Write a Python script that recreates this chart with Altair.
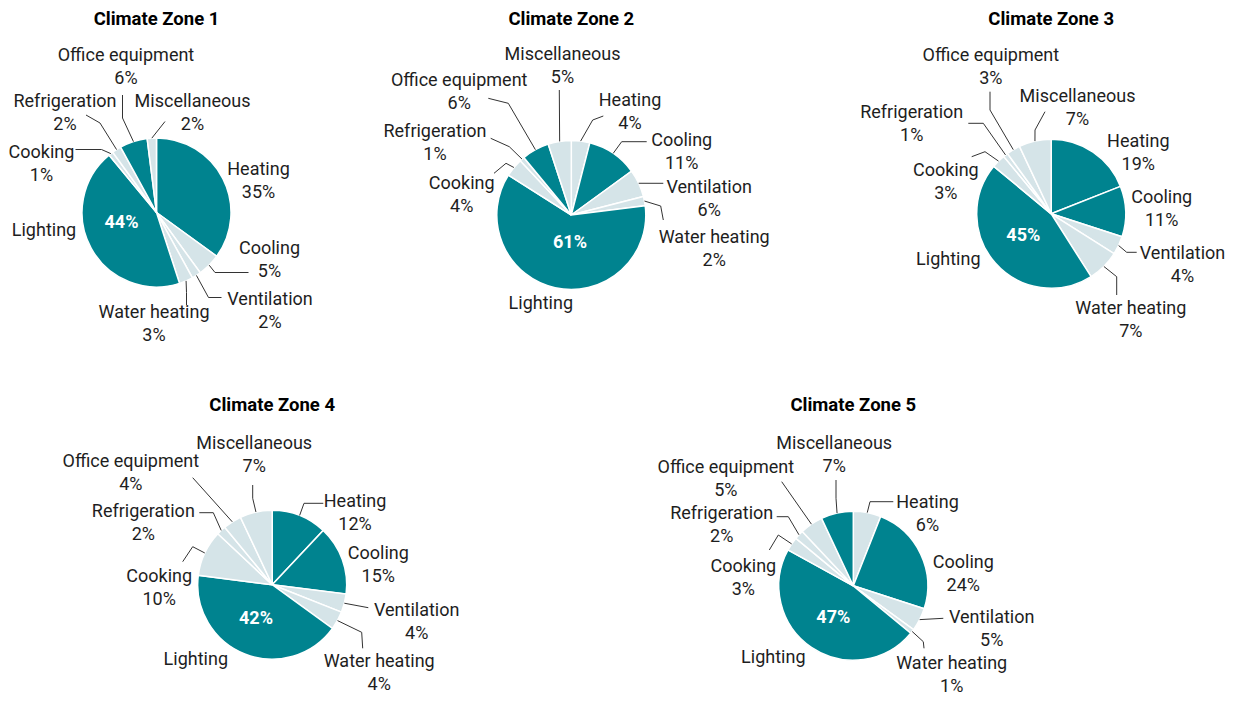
import math
import altair as alt
import pandas as pd

# ---------------- data ----------------
CATEGORIES = ["Heating", "Cooling", "Ventilation", "Water heating", "Lighting",
              "Cooking", "Refrigeration", "Office equipment", "Miscellaneous"]
ZONE_NAMES = ["Climate Zone 1", "Climate Zone 2", "Climate Zone 3",
              "Climate Zone 4", "Climate Zone 5"]
ZONE_1 = [35, 5, 2, 3, 44, 1, 2, 6, 2]
ZONE_2 = [4, 11, 6, 2, 61, 4, 1, 6, 5]
ZONE_3 = [19, 11, 4, 7, 45, 3, 1, 3, 7]
ZONE_4 = [12, 15, 4, 4, 42, 10, 2, 4, 7]
ZONE_5 = [6, 24, 5, 1, 47, 3, 2, 5, 7]
ZONE_VALUES = [ZONE_1, ZONE_2, ZONE_3, ZONE_4, ZONE_5]
HIGHLIGHTED = [
    ["Heating", "Lighting", "Office equipment"],
    ["Cooling", "Lighting", "Office equipment"],
    ["Heating", "Cooling", "Lighting"],
    ["Heating", "Cooling", "Lighting"],
    ["Cooling", "Lighting", "Miscellaneous"],
]
INSIDE_LABEL = "Lighting"

# ---------------- layout / style ----------------
W, H = 1218, 688
MARGIN = 8
RADIUS = 74.5
TEAL = "#00838f"
LIGHT = "#d5e4e8"
FONT = "Roboto"
LABEL_SIZE = 18
TITLE_SIZE = 18.5
LINE_H = 23
TEXT_COLOR = "#1e1e1e"
PIE_CENTERS = [(156.5, 212.5), (571.3, 215.0), (1051.2, 213.8),
               (272.2, 584.7), (853.3, 585.8)]
TITLE_Y = [19, 19, 19, 405, 405]

# label block centre offset from pie centre, and leader bend points (offsets)
LABEL_LAYOUT = [
    {  # zone 1
        "Heating": ((102, -31), []),
        "Cooling": ((113, 47.5), [(58.5, 60), (92, 60)]),
        "Ventilation": ((113.5, 99), [(52, 85), (65, 85)]),
        "Water heating": ((-2.5, 111.5), [(30, 80), (30, 92.5)]),
        "Lighting": ((-112.5, 18.5), []),
        "Cooking": ((-115, -48.5), [(-55, -63), (-81, -63)]),
        "Refrigeration": ((-91.5, -99), [(-56.5, -89.5), (-70.5, -97.5)]),
        "Office equipment": ((-30.5, -145.5), [(-34, -94.5), (-34, -117.5)]),
        "Miscellaneous": ((36, -99), [(8.5, -91)]),
    },
    {  # zone 2
        "Heating": ((58.7, -102.5), [(21.4, -95), (32, -99)]),
        "Cooling": ((110.4, -63), [(50.4, -73.3), (75.4, -73.3)]),
        "Ventilation": ((137.9, -15.4), [(92, -31.7)]),
        "Water heating": ((142.9, 34), [(89.4, -9), (92, 5)]),
        "Lighting": ((-30.5, 89), []),
        "Cooking": ((-109.6, -19.2), [(-65.3, -51.7), (-77.3, -41.7)]),
        "Refrigeration": ((-136.3, -71.7), [(-62, -68.3), (-80.6, -76.7)]),
        "Office equipment": ((-112.1, -123), [(-63, -111.7), (-83, -116.7)]),
        "Miscellaneous": ((-8.8, -148.5), [(-12, -125)]),
    },
    {  # zone 3
        "Heating": ((87.1, -60.5), []),
        "Cooling": ((110.5, -4.2), []),
        "Ventilation": ((131.3, 51.2), [(75.5, 38.5), (85.5, 38.5)]),
        "Water heating": ((79.6, 107), [(65.5, 62.9), (65.5, 81.2)]),
        "Lighting": ((-102.9, 46.2), []),
        "Cooking": ((-105.4, -31.8), [(-66.2, -62.1), (-79.5, -57.1)]),
        "Refrigeration": ((-139.5, -89.6), [(-67.9, -90.5), (-82.9, -90.5)]),
        "Office equipment": ((-60.4, -146.4), [(-61.2, -103.8), (-61.2, -122.1)]),
        "Miscellaneous": ((26.3, -105.5), [(-16.2, -83.8), (-6.2, -102.1)]),
    },
    {  # zone 4
        "Heating": ((82.8, -71.7), [(31.8, -81.4), (51.1, -81.4)]),
        "Cooling": ((106.1, -18.9), []),
        "Ventilation": ((144.5, 37.8), [(96.1, 23)]),
        "Water heating": ((107, 88.6), [(89.5, 47.6), (90.5, 63.6)]),
        "Lighting": ((-76.4, 75.3), []),
        "Cooking": ((-113, 3.3), [(-79.5, -38), (-89.5, -23)]),
        "Refrigeration": ((-128.9, -61.4), [(-58.9, -72), (-72.9, -72)]),
        "Office equipment": ((-141.4, -110.9), [(-79.5, -107)]),
        "Miscellaneous": ((-18, -128.9), [(-19.5, -86.4), (-19.5, -99.7)]),
    },
    {  # zone 5
        "Heating": ((74.2, -71.2), [(16.7, -84.1), (40, -84.1)]),
        "Cooling": ((110, -11.6), []),
        "Ventilation": ((138.4, 43.4), [(90, 32.5)]),
        "Water heating": ((98.4, 89.5), [(70, 55.9), (70.7, 62.5)]),
        "Lighting": ((-80, 72.5), []),
        "Cooking": ((-110, -7), [(-75, -50.8), (-84, -35.8)]),
        "Refrigeration": ((-131.6, -60), [(-65, -69.1), (-76.6, -69.1)]),
        "Office equipment": ((-127.5, -106.6), [(-71.6, -104.1)]),
        "Miscellaneous": ((-19.1, -130.4), [(-17.3, -87.5), (-17.3, -105.8)]),
    },
]
INSIDE_OFFSETS = [(-35, 10), (-1.3, 28), (-27.9, 22.2), (-16.2, 34.6), (-20, 32.5)]

# ---------------- build tables ----------------
slices, labels, insides, leaders, titles = [], [], [], [], []
lid = 0
for zi, (zname, vals) in enumerate(zip(ZONE_NAMES, ZONE_VALUES)):
    cx, cy = PIE_CENTERS[zi][0] - MARGIN, PIE_CENTERS[zi][1] - MARGIN
    titles.append({"x": cx, "y": TITLE_Y[zi] - MARGIN, "text": zname})
    total = float(sum(vals))
    cum = 0.0
    for cat, v in zip(CATEGORIES, vals):
        t0 = cum / total * 100
        cum += v
        t1 = cum / total * 100
        mid = (t0 + t1) / 200 * 2 * math.pi
        slices.append({"zone": zname, "cat": cat, "value": v, "t0": t0, "t1": t1,
                       "cx": cx, "cy": cy,
                       "hl": "hi" if cat in HIGHLIGHTED[zi] else "lo"})
        (ldx, ldy), bends = LABEL_LAYOUT[zi][cat]
        pct = f"{v}%"
        if cat == INSIDE_LABEL:
            labels.append({"x": cx + ldx, "y": cy + ldy, "text": cat})
            idx, idy = INSIDE_OFFSETS[zi]
            insides.append({"x": cx + idx, "y": cy + idy, "text": pct})
        else:
            # two-line block: first line sits half a line above block centre
            labels.append({"x": cx + ldx, "y": cy + ldy - LINE_H / 2,
                           "text": f"{cat}\n{pct}"})
        if bends:
            sx = cx + RADIUS * math.sin(mid)
            sy = cy - RADIUS * math.cos(mid)
            leaders.append({"lid": lid, "ord": 0, "x": sx, "y": sy})
            for k, (bx, by) in enumerate(bends):
                leaders.append({"lid": lid, "ord": k + 1, "x": cx + bx, "y": cy + by})
            lid += 1

df_slices = pd.DataFrame(slices)
df_labels = pd.DataFrame(labels)
df_inside = pd.DataFrame(insides)
df_leaders = pd.DataFrame(leaders)
df_titles = pd.DataFrame(titles)

xs = alt.Scale(domain=[0, W], nice=False, zero=False)
ys = alt.Scale(domain=[0, H], nice=False, zero=False, reverse=True)
X = lambda f: alt.X(f, scale=xs, axis=None)
Y = lambda f: alt.Y(f, scale=ys, axis=None)

arcs = alt.Chart(df_slices).mark_arc(
    outerRadius=RADIUS, stroke="white", strokeWidth=1.5
).encode(
    x=X("cx:Q"), y=Y("cy:Q"),
    theta=alt.Theta("t0:Q", stack=False,
                    scale=alt.Scale(domain=[0, 100], range=[0, 2 * math.pi])),
    theta2="t1:Q",
    color=alt.Color("hl:N", scale=alt.Scale(domain=["hi", "lo"], range=[TEAL, LIGHT]),
                    legend=None),
)

lines = alt.Chart(df_leaders).mark_line(color="#333333", strokeWidth=1).encode(
    x=X("x:Q"), y=Y("y:Q"), detail="lid:N", order="ord:Q"
)

label_text = alt.Chart(df_labels).mark_text(
    font=FONT, fontSize=LABEL_SIZE, color=TEXT_COLOR, align="center",
    baseline="middle", lineBreak="\n", lineHeight=LINE_H
).encode(x=X("x:Q"), y=Y("y:Q"), text="text:N")

inside_text = alt.Chart(df_inside).mark_text(
    font=FONT, fontSize=LABEL_SIZE, fontWeight="bold", color="white",
    align="center", baseline="middle"
).encode(x=X("x:Q"), y=Y("y:Q"), text="text:N")

title_text = alt.Chart(df_titles).mark_text(
    font=FONT, fontSize=TITLE_SIZE, fontWeight="bold", color="black",
    align="center", baseline="middle"
).encode(x=X("x:Q"), y=Y("y:Q"), text="text:N")

chart = alt.layer(arcs, lines, label_text, inside_text, title_text).properties(
    width=W, height=H, padding=0, autosize="none"
).configure_view(stroke=None)

chart.save("out.html", embed_options={"renderer": "svg", "actions": False})
